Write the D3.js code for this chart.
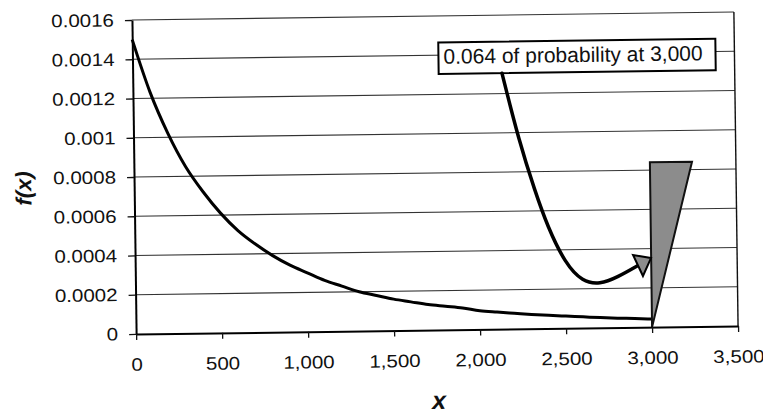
<!DOCTYPE html>
<html><head><meta charset="utf-8">
<script src="https://cdn.jsdelivr.net/npm/d3@7"></script>
<style>html,body{margin:0;padding:0;background:#fff;} svg{display:block;}</style>
</head><body><svg id="c" width="763" height="414"></svg>
<script>
// density curve
const xValues = [0,100,200,300,400,500,600,700,800,900,1000,1100,1200,1300,1400,1500,1600,1700,1800,1900,2000,2100,2200,2300,2400,2500,2600,2700,2800,2900,3000];
const fValues = [0.00150,0.00123,0.00102,0.00085,0.00072,0.00061,0.00052,0.00045,0.00039,0.00034,0.00030,0.00026,0.00023,0.00020,0.00018,0.00016,0.000145,0.00013,0.00012,0.00011,0.000095,0.000087,0.000080,0.000073,0.000067,0.000062,0.000057,0.000052,0.000048,0.000045,0.000041];
const xTickValues = [0,500,1000,1500,2000,2500,3000,3500];
const xTickLabels = ["0","500","1,000","1,500","2,000","2,500","3,000","3,500"];
const yTickValues = [0,0.0002,0.0004,0.0006,0.0008,0.001,0.0012,0.0014,0.0016];
const yTickLabels = ["0","0.0002","0.0004","0.0006","0.0008","0.001","0.0012","0.0014","0.0016"];
const annotationText = "0.064 of probability at 3,000";
// point-mass wedge (data units)
const wedgeX = [3000,3000,3245];
const wedgeY = [0,0.00084,0.00084];
// callout arrow (data units)
const arrowX = [2147,2147,2240,2330,2400,2500,2600,2700,2800,2923,2923];
const arrowY = [0.001304,0.001304,0.000960,0.000700,0.000520,0.000330,0.000235,0.000222,0.000255,0.000315,0.000315];
const headX = [2999,2895,2951];
const headY = [0.000352,0.000369,0.000261];
// callout box corners (data units)
const boxX = [1779,3390];
const boxY = [0.001465,0.001304];

const x0=134,x1=736,y0=16,y1=330;
const x = d3.scaleLinear().domain([0,3500]).range([x0,x1]);
const y = d3.scaleLinear().domain([0,0.0016]).range([y1,y0]);
const svg = d3.select('#c');
const g = svg.append('g').attr('transform','rotate(-0.76,434,173)');
const FONT = "'Liberation Sans', Arial, sans-serif";

// gridlines
g.append('g').selectAll('line').data(yTickValues.filter(d=>d>0)).join('line')
  .attr('x1',x0).attr('x2',x1).attr('y1',d=>y(d)).attr('y2',d=>y(d))
  .attr('stroke','#333').attr('stroke-width',1.1);
// right border
g.append('line').attr('x1',x(3500)).attr('x2',x(3500)).attr('y1',y0).attr('y2',y1)
  .attr('stroke','#111').attr('stroke-width',1.4);

// density curve
g.append('path').datum(d3.zip(xValues,fValues))
  .attr('d', d3.line().x(d=>x(d[0])).y(d=>y(d[1])).curve(d3.curveMonotoneX))
  .attr('fill','none').attr('stroke','#000').attr('stroke-width',3).attr('stroke-linejoin','round');

// wedge
g.append('path').datum(d3.zip(wedgeX,wedgeY))
  .attr('d', d3.line().x(d=>x(d[0])).y(d=>y(d[1])).curve(d3.curveLinearClosed))
  .attr('fill','#8c8c8c').attr('stroke','#111').attr('stroke-width',2).attr('stroke-linejoin','miter');

// axes
const yAxis = d3.axisLeft(y).tickValues(yTickValues)
  .tickFormat(d=>yTickLabels[yTickValues.indexOf(d)]).tickSize(7).tickSizeOuter(0).tickPadding(11);
const xAxis = d3.axisBottom(x).tickValues(xTickValues)
  .tickFormat(d=>xTickLabels[xTickValues.indexOf(d)]).tickSize(6).tickSizeOuter(0).tickPadding(18);
const ya = g.append('g').attr('transform',`translate(${x0},0)`).call(yAxis);
const xa = g.append('g').attr('transform',`translate(0,${y1})`).call(xAxis);
[ya,xa].forEach(a=>{
  a.attr('font-family',FONT).attr('font-size',18);
  a.select('.domain').attr('stroke','#000').attr('stroke-width',2);
  a.selectAll('.tick line').attr('stroke','#111').attr('stroke-width',1.3);
  a.selectAll('.tick text').attr('fill','#111').each(function(){
    const w=this.getComputedTextLength();
    d3.select(this).attr('textLength',w*1.14).attr('lengthAdjust','spacingAndGlyphs');
  });
});

// callout box
const bx0=x(boxX[0]), bx1=x(boxX[1]), by0=y(boxY[0]), by1=y(boxY[1]);
g.append('rect').attr('x',bx0).attr('y',by0).attr('width',bx1-bx0).attr('height',by1-by0)
  .attr('fill','#fff').attr('stroke','#000').attr('stroke-width',2);
g.append('text').attr('x',bx0+5).attr('y',by0+21.5).attr('font-family',FONT).attr('font-size',21)
  .attr('fill','#111').text(annotationText);

// arrow
g.append('path').datum(d3.zip(arrowX,arrowY))
  .attr('d', d3.line().x(d=>x(d[0])).y(d=>y(d[1])).curve(d3.curveBasis))
  .attr('fill','none').attr('stroke','#000').attr('stroke-width',3.5).attr('stroke-linecap','round');
g.append('path').datum(d3.zip(headX,headY))
  .attr('d', d3.line().x(d=>x(d[0])).y(d=>y(d[1])).curve(d3.curveLinearClosed))
  .attr('fill','#8c8c8c').attr('stroke','#000').attr('stroke-width',2).attr('stroke-linejoin','miter');

// axis titles
g.append('text').attr('transform','translate(31,183) rotate(-90)').attr('text-anchor','middle')
  .attr('font-family',FONT).attr('font-size',22).attr('font-weight','bold').attr('font-style','italic')
  .attr('fill','#111').text('f(x)');
g.append('text').attr('x',436).attr('y',409).attr('text-anchor','middle')
  .attr('font-family',FONT).attr('font-size',25).attr('font-weight','bold').attr('font-style','italic')
  .attr('fill','#111').text('x');
</script></body></html>
